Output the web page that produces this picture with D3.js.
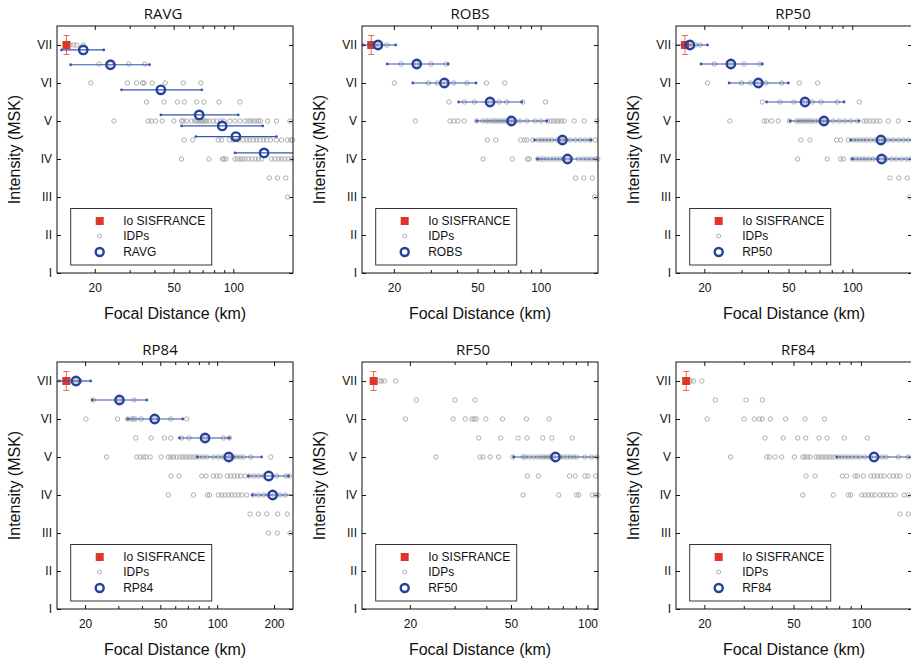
<!DOCTYPE html>
<html>
<head>
<meta charset="utf-8">
<script src="https://cdnjs.cloudflare.com/ajax/libs/d3/7.8.5/d3.min.js"></script>
<style>
body { margin: 0; background: #fff; }
svg text { font-family: "Liberation Sans", Arial, sans-serif; fill: #111; }
.title { font-family: "Open Sans", sans-serif; font-size: 15px; }
</style>
</head>
<body>
<div id="chart"></div>
<script>
// panel names and axis ranges (km)
var panelNames = ["RAVG", "ROBS", "RP50", "RP84", "RF50", "RF84"];
var xDomains = [[12.9, 200], [14.1, 187.5], [14.7, 191.5], [14.2, 252], [12.96, 110], [14.95, 169]];
var xMajors = [[20, 50, 100], [20, 50, 100], [20, 50, 100], [20, 50, 100, 200], [20, 50, 100], [20, 50, 100]];
var xMinors = [30, 40, 60, 70, 80, 90];
var yTickLabels = ["I", "II", "III", "IV", "V", "VI", "VII"];

// Io SISFRANCE (depth, intensity, half error)
var ioDepths = [14.4, 15.6, 16.2, 15.9, 14.4, 16.6];
var ioIntensity = 7;
var ioError = 0.25;

// IDPs: [intensity, focal distances]
var ravgIdp = [
  [7, [15, 15.7, 16.2, 17.5]],
  [6.5, [21.0, 24.0, 29.7, 35.8]],
  [6, [19.1, 29.2, 32.5, 34.8, 35.5, 39.0, 45.3, 55.9, 68.6]],
  [5.5, [36.5, 44.8, 52.3, 56.5, 65.3, 71.0, 84.6, 108]],
  [5, [25.0, 37.2, 38.6, 40.6, 43.8, 50.1, 54.8, 55.9, 58.1, 61.6, 64.0, 65.3, 66.5, 67.8, 69.1, 70.5, 71.9, 73.3, 75.6, 79.2, 82.3, 86.6, 89.6, 96.1, 101.9, 108, 114.5, 119, 122, 126, 130, 134, 137, 149, 165, 193]],
  [4.5, [56.5, 62.3, 83.9, 87.3, 95.4, 99.9, 105.9, 112, 117, 121, 126, 131, 136, 142, 147, 154, 165, 175, 187, 195, 199]],
  [4, [54.8, 75.3, 88.3, 89.6, 91.8, 102, 105, 108, 111, 114.5, 119, 124, 129, 134, 139, 156, 162, 169, 175, 182, 189, 197]],
  [3.5, [152, 167, 184]],
  [3, [188]]
];
var robsIdp = [
  [7, [15.8, 16.4, 17.0, 18.5]],
  [6.5, [21.6, 25.7, 30.1, 35.4]],
  [6, [20.1, 29.2, 32.2, 35.2, 38.6, 44.6, 55.2, 67.5]],
  [5.5, [36.6, 43.3, 48.4, 57.4, 63.4, 68.9, 82.2, 105.4]],
  [5, [25.3, 37.0, 38.6, 40.4, 43.2, 49.6, 53.0, 55.0, 56.6, 58.5, 60.2, 61.8, 63.4, 65.0, 67.0, 68.9, 71.0, 72.6, 75.6, 79.8, 85.9, 94.1, 100.2, 107.8, 111.8, 115, 118.5, 122, 125.6, 129.4, 144.4, 161, 185]],
  [4.5, [55.8, 61.1, 80.4, 83.7, 85.9, 91.7, 97.6, 101.2, 105, 108.9, 113, 119.4, 126.1, 127, 138.2, 146, 154.2, 163, 172, 182, 188]],
  [4, [53.2, 73.3, 86.5, 88.1, 96.9, 100.2, 103.2, 106.9, 110.9, 115, 119.4, 123.8, 128.4, 134.2, 151.5, 159, 166, 173.4, 182, 187]],
  [3.5, [146.6, 160.5, 176]],
  [3, [180.5]]
];
var rp50Idp = [
  [7, [16.8, 17.5, 18.2, 19.1]],
  [6.5, [22.3, 26.7, 30.8, 36.6]],
  [6, [20.7, 30.0, 33.1, 36.3, 39.1, 46.4, 56.2, 68.6]],
  [5.5, [37.6, 45.6, 53.0, 59.8, 64.7, 71.2, 85.0, 108]],
  [5, [26.4, 38.3, 39.4, 41.6, 44.7, 50.4, 54.6, 56.2, 57.7, 59.2, 60.9, 62.7, 64.5, 66.7, 69.1, 71.7, 73.5, 76.2, 81.4, 86.9, 92.4, 98.3, 105.7, 113.6, 116.9, 121.2, 125.7, 130.4, 135.2, 148, 165]],
  [4.5, [57.2, 63.1, 84.4, 88.1, 95.8, 101.1, 104.9, 108.8, 112.8, 116.9, 122.1, 128, 136.6, 140.2, 148, 156.3, 165, 174, 184]],
  [4, [55.2, 76.2, 88.1, 90.7, 100, 103.8, 107.6, 111.6, 115.7, 120, 125.7, 137.6, 145, 153.5, 162, 171, 180.7, 188.7]],
  [3.5, [150.7, 166, 182]],
  [3, [187]]
];
var rp84Idp = [
  [7, [16.8, 17.9, 18.8]],
  [6.5, [22.1, 30.4, 36.3]],
  [6, [20.2, 29.7, 33.6, 35.3, 36.0, 36.8, 39.6, 46.7, 56.8, 69.0]],
  [5.5, [37.1, 44.7, 52.6, 56.8, 64.9, 71.0, 86.3, 107.9, 116]],
  [5, [26.0, 37.5, 39.1, 40.7, 41.9, 44.2, 50.5, 55.2, 56.8, 58.7, 61.1, 63.6, 65.7, 67.9, 70.2, 72.5, 74.9, 77.3, 80.2, 83.9, 88.1, 95.5, 101.5, 107, 115.1, 117, 121.9, 126.9, 132.2, 137.6, 150.5, 192]],
  [4.5, [57.0, 62.9, 82.9, 87.3, 95.5, 99.5, 103.6, 113.3, 118, 122.9, 128, 133.2, 140.5, 148, 156.8, 165.3, 175.7, 206.6, 231, 241]],
  [4, [55.2, 74.9, 88.8, 91.0, 101.5, 105.7, 110, 114.7, 119.4, 124.4, 129.5, 134.9, 143.4, 155.5, 165.3, 175.7, 186.7, 200, 215, 228.7]],
  [3.5, [149.3, 165.3, 183, 209, 235]],
  [3, [186.7, 208, 243]]
];
var rf50Idp = [
  [7, [15.2, 15.5, 15.9, 17.6]],
  [6.5, [21.2, 30.1, 36.1]],
  [6, [19.2, 29.6, 33.0, 35.1, 35.8, 36.5, 39.8, 46.3, 57.5, 70.5]],
  [5.5, [37.3, 45.5, 53.3, 57.8, 66.7, 72.4, 87.1]],
  [5, [25.3, 37.8, 38.8, 41.4, 44.7, 50.8, 55.8, 56.8, 58.9, 61.4, 63.7, 65.7, 67.3, 69.0, 70.5, 71.9, 73.7, 78.3, 80.7, 83.2, 85.8, 88.4, 90.6, 97.8, 103.6, 109]],
  [4.5, [58.0, 64.1, 85.0, 89.5, 97.8, 100.5, 107.7]],
  [4, [55.8, 77.1, 90.6, 92.5, 104.5, 107.7, 110]]
];
var rf84Idp = [
  [7, [17.4, 17.9, 19.5]],
  [6.5, [22.4, 30.7, 36.3]],
  [6, [20.6, 30.1, 33.4, 35.2, 36.3, 39.4, 46.1, 56.3, 68.7]],
  [5.5, [37.3, 45.0, 52.2, 56.7, 65.0, 70.6, 84.3, 106.8]],
  [5, [26.2, 38.0, 39.0, 41.4, 44.3, 50.5, 55.0, 56.3, 57.7, 59.3, 63.0, 64.8, 66.6, 68.4, 70.3, 72.3, 74.3, 76.4, 79.3, 82.1, 84.9, 87.9, 90.9, 95.1, 99.1, 104.3, 110.6, 118.4, 123.8, 129.4, 146.9, 162.8]],
  [4.5, [56.9, 62.4, 82.6, 86.4, 94.1, 96.4, 102.5, 110.6, 114.4, 118.4, 122.5, 126.8, 134, 139.6, 144.4, 149.5, 162.8]],
  [4, [55.0, 75.3, 87.9, 90.0, 100.8, 104.3, 107.9, 111.7, 115.6, 121.7, 125.9, 130.3, 135.8, 142, 155.8, 162.8]],
  [3.5, [149.5, 162.8]]
];

// binned means: [distance, intensity, low distance, high distance]
var ravgMean = [[17.5, 6.87, 13.6, 22.2], [24.0, 6.48, 15.1, 37.8], [43.1, 5.82, 27.3, 69.4], [67.3, 5.16, 43.1, 105.9],
  [87.9, 4.87, 54.8, 140.6], [103, 4.59, 64.7, 165], [143, 4.16, 102, 201]];
var robsMean = [[16.8, 7, 14.3, 20.4], [25.7, 6.5, 18.6, 36.3], [34.8, 6, 24.6, 49.2], [57.4, 5.5, 40.7, 81.3],
  [72.6, 5, 49.6, 106.9], [127, 4.5, 93.5, 173.4], [134.2, 4, 96.5, 188]];
var rp50Mean = [[17.1, 7, 14.5, 20.7], [26.7, 6.5, 19.3, 37.6], [36.0, 6, 26.2, 49.9], [59.8, 5.5, 39.4, 91.4],
  [73.5, 5, 50.8, 107.6], [136.6, 4.5, 98.3, 191], [137.6, 4, 100, 191]];
var rp84Mean = [[17.9, 7, 14.6, 21.4], [30.4, 6.5, 21.8, 42.4], [46.7, 6, 33.6, 65.7], [86.3, 5.5, 63.1, 116],
  [115.1, 5, 78.6, 172], [187.4, 4.5, 146.3, 239], [196.8, 4, 153.6, 253]];
var rf50Mean = [[74.8, 5, 51.2, 111]];
var rf84Mean = [[114.4, 5, 78.0, 175]];

var idpSets = [ravgIdp, robsIdp, rp50Idp, rp84Idp, rf50Idp, rf84Idp];
var meanSets = [ravgMean, robsMean, rp50Mean, rp84Mean, rf50Mean, rf84Mean];

// layout
var lefts = [57, 362, 676], tops = [26, 362];
var w = 236, h = 247;
var titleX = [163, 470, 793, 160, 473, 798];

var red = "#e0352b", redBar = "#ea6a5a", blue = "#24419c", blueBar = "#3654b0", grey = "#a6a6a6";

var svg = d3.select("#chart").append("svg")
  .attr("width", 911)
  .attr("height", 661);

svg.append("rect").attr("width", 911).attr("height", 661).attr("fill", "#fff");

panelNames.forEach(function(name, i) {
  var col = i % 3, row = Math.floor(i / 3);
  var x0 = lefts[col], y0 = tops[row];
  var dom = xDomains[i];

  var x = d3.scaleLog().domain(dom).range([0, w]);
  var y = d3.scaleLinear().domain([1, 7.5]).range([h, 0]);

  var g = svg.append("g").attr("transform", "translate(" + x0 + "," + y0 + ")");

  g.append("clipPath").attr("id", "clip" + i)
    .append("rect").attr("width", w).attr("height", h);

  // axes, ticks pointing inward
  var minors = xMinors.filter(function(d) { return d > dom[0] && d < dom[1]; });
  var bottom = g.append("g").attr("transform", "translate(0," + h + ")")
    .call(d3.axisBottom(x).tickValues(xMajors[i]).tickFormat(d3.format("d"))
      .tickSizeInner(-4).tickSizeOuter(0).tickPadding(10));
  bottom.selectAll("text").style("font-size", "12px");
  g.append("g").attr("transform", "translate(0," + h + ")")
    .call(d3.axisBottom(x).tickValues(minors).tickFormat("").tickSizeInner(-3).tickSizeOuter(0));
  g.append("g")
    .call(d3.axisTop(x).tickValues(xMajors[i]).tickFormat("").tickSizeInner(-4).tickSizeOuter(0));
  g.append("g")
    .call(d3.axisTop(x).tickValues(minors).tickFormat("").tickSizeInner(-3).tickSizeOuter(0));
  var left = g.append("g")
    .call(d3.axisLeft(y).tickValues([1, 2, 3, 4, 5, 6, 7])
      .tickFormat(function(d) { return yTickLabels[d - 1]; })
      .tickSizeInner(-4).tickSizeOuter(0).tickPadding(5));
  left.selectAll("text").style("font-size", "12px");
  g.append("g").attr("transform", "translate(" + w + ",0)")
    .call(d3.axisRight(y).tickValues([1, 2, 3, 4, 5, 6, 7]).tickFormat("").tickSizeInner(-4).tickSizeOuter(0));
  g.selectAll(".domain").remove();
  g.selectAll(".tick line").attr("stroke", "#111");

  // IDPs
  var pts = [];
  idpSets[i].forEach(function(r) {
    r[1].forEach(function(d) { if (d >= dom[0] && d <= dom[1]) pts.push([d, r[0]]); });
  });
  g.selectAll(".idp").data(pts).enter().append("circle")
    .attr("class", "idp")
    .attr("cx", function(d) { return x(d[0]); })
    .attr("cy", function(d) { return y(d[1]); })
    .attr("r", 2.2)
    .attr("fill", "none")
    .attr("stroke", grey)
    .attr("stroke-width", 0.9);

  // Io with error bar
  var io = g.append("g");
  var ix = x(ioDepths[i]);
  io.append("line").attr("x1", ix).attr("x2", ix)
    .attr("y1", y(ioIntensity - ioError)).attr("y2", y(ioIntensity + ioError))
    .attr("stroke", redBar).attr("stroke-width", 1);
  [ioIntensity - ioError, ioIntensity + ioError].forEach(function(v) {
    io.append("line").attr("x1", ix - 3).attr("x2", ix + 3)
      .attr("y1", y(v)).attr("y2", y(v))
      .attr("stroke", redBar).attr("stroke-width", 1);
  });
  io.append("rect").attr("x", ix - 4).attr("y", y(ioIntensity) - 4)
    .attr("width", 8).attr("height", 8).attr("fill", red);

  // binned means with distance range
  var means = meanSets[i];
  g.append("g").attr("clip-path", "url(#clip" + i + ")")
    .selectAll("line").data(means).enter().append("line")
    .attr("x1", function(d) { return x(d[2]); })
    .attr("x2", function(d) { return x(d[3]); })
    .attr("y1", function(d) { return y(d[1]); })
    .attr("y2", function(d) { return y(d[1]); })
    .attr("stroke", blueBar).attr("stroke-width", 1.2);
  var ends = [];
  means.forEach(function(d) {
    [d[2], d[3]].forEach(function(e) { if (e >= dom[0] && e <= dom[1]) ends.push([e, d[1]]); });
  });
  g.selectAll(".end").data(ends).enter().append("circle")
    .attr("class", "end")
    .attr("cx", function(d) { return x(d[0]); })
    .attr("cy", function(d) { return y(d[1]); })
    .attr("r", 1.4).attr("fill", blueBar);
  g.selectAll(".mean").data(means).enter().append("circle")
    .attr("class", "mean")
    .attr("cx", function(d) { return x(d[0]); })
    .attr("cy", function(d) { return y(d[1]); })
    .attr("r", 4.2)
    .attr("fill", "none")
    .attr("stroke", blue)
    .attr("stroke-width", 2.4);

  // frame
  g.append("rect").attr("width", w).attr("height", h)
    .attr("fill", "none").attr("stroke", "#111").attr("stroke-width", 1);

  // legend
  var lg = g.append("g").attr("transform", "translate(13.7," + (h - 64.5) + ")");
  lg.append("rect").attr("width", 141).attr("height", 56.5)
    .attr("fill", "#fff").attr("stroke", "#333").attr("stroke-width", 1);
  lg.append("rect").attr("x", 25).attr("y", 8.5).attr("width", 8).attr("height", 8).attr("fill", red);
  lg.append("circle").attr("cx", 29).attr("cy", 27.5).attr("r", 2)
    .attr("fill", "none").attr("stroke", grey).attr("stroke-width", 0.9);
  lg.append("circle").attr("cx", 29).attr("cy", 43.5).attr("r", 4)
    .attr("fill", "none").attr("stroke", blue).attr("stroke-width", 2.4);
  ["Io SISFRANCE", "IDPs", name].forEach(function(t, k) {
    lg.append("text").attr("x", 52.5).attr("y", [12.5, 27.5, 43.5][k]).attr("dy", "0.35em")
      .style("font-size", "12px").text(t);
  });

  // titles and labels
  svg.append("text").attr("class", "title")
    .attr("x", titleX[i]).attr("y", y0 - 7)
    .attr("text-anchor", "middle").text(name);
  svg.append("text")
    .attr("x", x0 + w / 2).attr("y", y0 + h + 46)
    .attr("text-anchor", "middle").style("font-size", "16px")
    .text("Focal Distance (km)");
  svg.append("text")
    .attr("transform", "translate(" + (x0 - 37) + "," + (y0 + h / 2) + ") rotate(-90)")
    .attr("text-anchor", "middle").style("font-size", "16px")
    .text("Intensity (MSK)");
});
</script>
</body>
</html>
